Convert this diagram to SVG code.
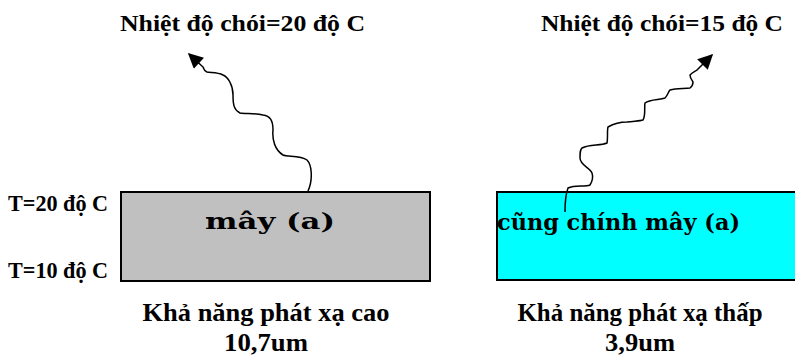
<svg xmlns="http://www.w3.org/2000/svg" width="795" height="356" viewBox="0 0 795 356">
<defs>
<style>
.t{font-family:"Liberation Serif","Times New Roman",serif;font-weight:bold;fill:#000}
.m{font-family:"DejaVu Serif","Liberation Serif",serif;font-weight:bold;fill:#000}
.wave{fill:none;stroke:#000;stroke-width:1.5}
</style>
<marker id="ah" viewBox="0 0 10 10" refX="9" refY="5" markerWidth="17" markerHeight="15" markerUnits="userSpaceOnUse" orient="auto">
<path d="M0,0 L10,5 L0,10 Z" fill="#000"/>
</marker>
</defs>
<rect width="795" height="356" fill="#fff"/>
<g id="title-left"><text class="t" x="120" y="31" font-size="24" textLength="245" lengthAdjust="spacingAndGlyphs">Nhiệt độ chói=20 độ C</text></g>
<g id="title-right"><text class="t" x="541" y="31" font-size="24" textLength="242" lengthAdjust="spacingAndGlyphs">Nhiệt độ chói=15 độ C</text></g>
<g id="label-t20"><text class="t" x="8" y="211" font-size="24" textLength="100" lengthAdjust="spacingAndGlyphs">T=20 độ C</text></g>
<g id="label-t10"><text class="t" x="8" y="278" font-size="24" textLength="100" lengthAdjust="spacingAndGlyphs">T=10 độ C</text></g>
<g id="cloud-left">
<rect x="121" y="192" width="309" height="89" fill="#c0c0c0" stroke="#000" stroke-width="2"/>
<text class="m" x="205" y="229" font-size="22" textLength="130" lengthAdjust="spacingAndGlyphs">mây (a)</text>
</g>
<g id="cloud-right">
<rect x="497" y="192" width="300" height="88" fill="#00ffff" stroke="#000" stroke-width="2"/>
<text class="m" x="497" y="230" font-size="22" textLength="243" lengthAdjust="spacingAndGlyphs">cũng chính mây (a)</text>
</g>
<g id="caption-left">
<text class="t" x="266" y="321" font-size="25" text-anchor="middle" textLength="247" lengthAdjust="spacingAndGlyphs">Khả năng phát xạ cao</text>
<text class="t" x="266" y="351" font-size="25" text-anchor="middle" textLength="84" lengthAdjust="spacingAndGlyphs">10,7um</text>
</g>
<g id="caption-right">
<text class="t" x="640" y="321" font-size="25" text-anchor="middle" textLength="245" lengthAdjust="spacingAndGlyphs">Khả năng phát xạ thấp</text>
<text class="t" x="640" y="351" font-size="25" text-anchor="middle" textLength="70" lengthAdjust="spacingAndGlyphs">3,9um</text>
</g>
<g id="connectors">
<path class="wave" marker-end="url(#ah)" d="M308,191 C313,180 312,165 307,160 C300,155 288,157 283,155 C275,150 272,140 273,130 C273,120 270,116 263,115 C255,113 245,114 240,113 C234,110 233,105 233,95 C233,85 228,77 223,75 C217,72 210,73 207,72 C203,70 204,68 203,67 L189,54"/>
<path class="wave" marker-end="url(#ah)" d="M565,212 C565,205 565,196 568,188 C575,185 585,187 590,185 C593,180 593,176 592,173 C590,168 580,165 580,158 C580,152 580,150 582,148 C590,144 600,146 607,143 C608,138 607,130 608,127 C615,123 622,122 627,122 C635,121 640,121 643,120 C646,115 644,107 645,103 C650,99 660,100 665,98 C668,95 668,92 670,90 C677,88 685,89 690,88 C693,86 693,84 693,82 C690,78 690,76 690,75 C693,72 696,71 697,70 L712,55"/>
</g>
</svg>
